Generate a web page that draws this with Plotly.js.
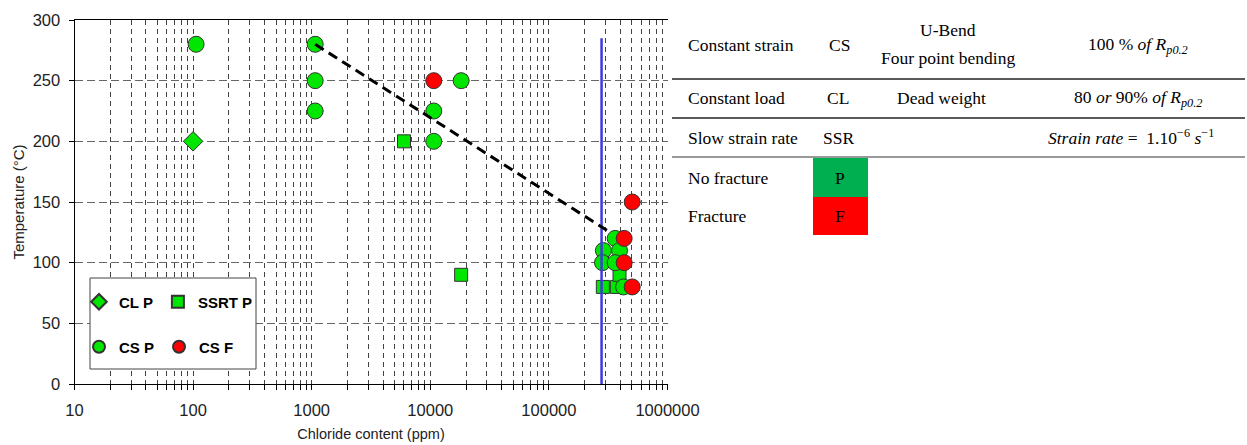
<!DOCTYPE html>
<html>
<head>
<meta charset="utf-8">
<script src="https://cdn.plot.ly/plotly-3.0.1.min.js"></script>
<style>html,body{margin:0;padding:0;background:#fff;}#chart{width:1247px;height:445px;}</style>
</head>
<body>
<div id="chart"></div>
<script>
// ---- data (chloride ppm, temperature °C) ----
const clP_x = [100];
const clP_y = [200];
const ssrtP_x = [6000, 18200, 285000, 374000, 394000];
const ssrtP_y = [200, 90, 80, 80, 90];
const csP_x = [106, 1070, 1070, 1070, 10700, 10700, 18200, 362000, 288000, 394000, 283000, 362000, 426000];
const csP_y = [280, 280, 250, 225, 225, 200, 250, 120, 110, 110, 100, 100, 80];
const csF_x = [10700, 504000, 431000, 431000, 504000];
const csF_y = [250, 150, 120, 100, 80];
const limit_x = [278000, 278000];
const limit_y = [0, 285];
const trend_x = [1070, 340000];
const trend_y = [280, 124];
const xTickVals = [10, 100, 1000, 10000, 100000, 1000000];
const xTickText = ['10', '100', '1000', '10000', '100000', '1000000'];
const legendNames = ['CL P', 'SSRT P', 'CS P', 'CS F'];

const W = 1247, H = 445;
const px = x => x / W;
const py = y => 1 - y / H;
const SANS = 'Liberation Sans, Arial, sans-serif';
const SERIF = 'Liberation Serif, Times New Roman, serif';

const minorVals = [];
for (let d = 10; d < 1000000; d *= 10) for (let k = 2; k <= 9; k++) minorVals.push(k * d);

const mline = {color: '#333', width: 1};
const traces = [
  {x: clP_x, y: clP_y, name: legendNames[0], mode: 'markers', type: 'scatter', legend: 'legend',
   marker: {symbol: 'diamond', size: 15, color: '#00e600', line: mline}},
  {x: ssrtP_x, y: ssrtP_y, name: legendNames[1], mode: 'markers', type: 'scatter', legend: 'legend',
   marker: {symbol: 'square', size: 13, color: '#00e600', line: mline}},
  {x: csP_x, y: csP_y, name: legendNames[2], mode: 'markers', type: 'scatter', legend: 'legend2',
   marker: {symbol: 'circle', size: 16, color: '#00e600', line: mline}},
  {x: csF_x, y: csF_y, name: legendNames[3], mode: 'markers', type: 'scatter', legend: 'legend2',
   marker: {symbol: 'circle', size: 16, color: '#ff0000', line: mline}},
  {x: limit_x, y: limit_y, mode: 'lines', type: 'scatter', showlegend: false,
   line: {color: '#3c3cd8', width: 2.5}},
  {x: trend_x, y: trend_y, mode: 'lines', type: 'scatter', showlegend: false,
   line: {color: '#000', width: 3, dash: '10px,6px'}}
];

const ann = (text, x, y, xanchor) => ({
  text, x: px(x), y: py(y), xref: 'paper', yref: 'paper', xanchor: xanchor || 'center', yanchor: 'middle',
  showarrow: false, font: {family: SERIF, size: 17.5, color: '#000'}
});

const annotations = [
  ann('Constant strain', 686, 45, 'left'),
  ann('CS', 839, 45),
  ann('U-Bend', 948, 30),
  ann('Four point bending', 948, 58),
  ann('100 % <i>of R</i><sub><i>p0.2</i></sub>', 1138, 45),
  ann('Constant load', 686, 98, 'left'),
  ann('CL', 838, 98),
  ann('Dead weight', 941, 98),
  ann('80 <i>or</i> 90% <i>of R</i><sub><i>p0.2</i></sub>', 1138, 98),
  ann('Slow strain rate', 686, 138, 'left'),
  ann('SSR', 838, 138),
  ann('<i>Strain rate</i> =  1.10<sup>−6</sup> <i>s</i><sup>−1</sup>', 1131, 137),
  ann('No fracture', 686, 178, 'left'),
  ann('P', 840, 178),
  ann('Fracture', 686, 216, 'left'),
  ann('F', 840, 216)
];

const hl = (y, color, w) => ({type: 'line', xref: 'paper', yref: 'paper', x0: px(672), x1: px(1245), y0: py(y), y1: py(y), line: {color, width: w}});
const shapes = [
  hl(79, '#222', 1.5), hl(118, '#222', 1.5), hl(157, '#999', 2),
  {type: 'rect', xref: 'paper', yref: 'paper', x0: px(813), x1: px(868), y0: py(197), y1: py(158), fillcolor: '#00b050', line: {width: 0}},
  {type: 'rect', xref: 'paper', yref: 'paper', x0: px(813), x1: px(868), y0: py(235), y1: py(197), fillcolor: '#ff0000', line: {width: 0}},
  {type: 'rect', xref: 'paper', yref: 'paper', layer: 'above', x0: px(90), x1: px(256), y0: py(369), y1: py(278), fillcolor: '#fff', line: {color: '#444', width: 1}}
];

const legFont = {family: SANS, size: 15, weight: 'bold', color: '#000'};
const layout = {
  width: W, height: H,
  margin: {l: 0, r: 0, t: 0, b: 0},
  paper_bgcolor: '#fff', plot_bgcolor: '#fff',
  font: {family: SANS, color: '#222'},
  xaxis: {
    type: 'log', range: [1, 6], domain: [px(74.5), px(667.5)],
    tickvals: xTickVals, ticktext: xTickText,
    tickfont: {size: 16.5, family: SANS, color: '#222'},
    ticks: 'outside', ticklen: 5, tickcolor: '#000',
    showline: true, linecolor: '#000', linewidth: 1, mirror: true,
    showgrid: true, gridcolor: '#444', griddash: '5px,4px', gridwidth: 1,
    minor: {tickvals: minorVals, showgrid: true, gridcolor: '#444', griddash: '5px,4px', gridwidth: 1, ticks: 'outside', ticklen: 5, tickcolor: '#000'},
    zeroline: false, ticklabelstandoff: 6,
    title: {text: 'Chloride content (ppm)', font: {size: 14.5, family: SANS, color: '#222'}, standoff: 11}
  },
  yaxis: {
    range: [0, 300], domain: [py(384), py(20)], dtick: 50,
    tickfont: {size: 16.5, family: SANS, color: '#222'},
    ticks: 'outside', ticklen: 5, tickcolor: '#000',
    showline: true, linecolor: '#000', linewidth: 1,
    showgrid: true, gridcolor: '#666', griddash: '8px,4px', gridwidth: 1,
    zeroline: false, ticklabelstandoff: 5,
    title: {text: 'Temperature (°C)', font: {size: 15, family: SANS, color: '#222'}, standoff: 4}
  },
  legend: {x: px(79), y: py(302), xanchor: 'left', yanchor: 'middle', orientation: 'h', bgcolor: 'rgba(0,0,0,0)',
           itemsizing: 'constant', font: legFont},
  legend2: {x: px(79), y: py(347), xanchor: 'left', yanchor: 'middle', orientation: 'h', bgcolor: 'rgba(0,0,0,0)',
           itemsizing: 'constant', font: legFont},
  annotations, shapes,
  showlegend: true
};

Plotly.newPlot('chart', traces, layout, {displayModeBar: false, staticPlot: true});
</script>
</body>
</html>
